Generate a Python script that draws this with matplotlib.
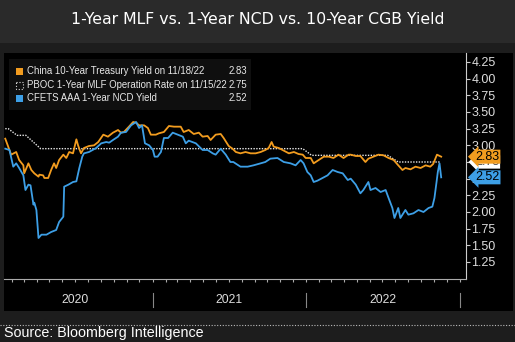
import matplotlib
matplotlib.use("Agg")
import matplotlib.pyplot as plt
import matplotlib.dates as mdates
from matplotlib.patches import Rectangle
from matplotlib.lines import Line2D
import pandas as pd

# --- data ---
cgb_dates = ["2020-01-17", "2020-01-24", "2020-01-31", "2020-02-12", "2020-02-19", "2020-02-29",
             "2020-03-02", "2020-03-12", "2020-03-19", "2020-03-26", "2020-04-05", "2020-04-07",
             "2020-04-16", "2020-04-19", "2020-04-28", "2020-05-05", "2020-05-12", "2020-05-17",
             "2020-05-24", "2020-06-03", "2020-06-10", "2020-06-17", "2020-06-26", "2020-07-04",
             "2020-07-08", "2020-07-15", "2020-07-22", "2020-08-03", "2020-08-15", "2020-08-25",
             "2020-09-06", "2020-09-17", "2020-09-29", "2020-10-11", "2020-10-18", "2020-10-25",
             "2020-11-06", "2020-11-16", "2020-11-23", "2020-11-30", "2020-12-12", "2020-12-21",
             "2020-12-28", "2021-01-09", "2021-01-16", "2021-01-28", "2021-02-09", "2021-02-21",
             "2021-03-09", "2021-03-16", "2021-03-28", "2021-04-09", "2021-04-21", "2021-04-30",
             "2021-05-12", "2021-05-19", "2021-05-31", "2021-06-12", "2021-06-19", "2021-07-01",
             "2021-07-10", "2021-07-18", "2021-07-29", "2021-08-10", "2021-08-22", "2021-09-03",
             "2021-09-15", "2021-09-26", "2021-10-04", "2021-10-11", "2021-10-16", "2021-10-28",
             "2021-11-09", "2021-11-21", "2021-12-03", "2021-12-14", "2021-12-24", "2021-12-31",
             "2022-01-12", "2022-01-19", "2022-01-31", "2022-02-12", "2022-02-24", "2022-03-07",
             "2022-03-19", "2022-03-31", "2022-04-12", "2022-04-17", "2022-04-29", "2022-05-10",
             "2022-05-22", "2022-05-29", "2022-06-10", "2022-06-22", "2022-07-04", "2022-07-16",
             "2022-07-28", "2022-08-08", "2022-08-18", "2022-08-25", "2022-09-06", "2022-09-18",
             "2022-09-30", "2022-10-12", "2022-10-23", "2022-10-30", "2022-11-08", "2022-11-18"]
cgb_yield = [3.10, 2.98, 2.86, 2.90, 2.78, 2.70,
             2.58, 2.73, 2.63, 2.58, 2.53, 2.56,
             2.55, 2.51, 2.51, 2.63, 2.73, 2.66,
             2.78, 2.86, 2.81, 2.90, 2.88, 3.09,
             3.00, 2.88, 2.96, 2.99, 3.00, 3.05,
             3.16, 3.13, 3.19, 3.23, 3.19, 3.20,
             3.28, 3.35, 3.34, 3.30, 3.30, 3.26,
             3.16, 3.16, 3.18, 3.20, 3.29, 3.28,
             3.28, 3.20, 3.23, 3.17, 3.19, 3.13,
             3.14, 3.08, 3.16, 3.17, 3.11, 2.99,
             2.95, 2.90, 2.88, 2.90, 2.88, 2.88,
             2.90, 2.93, 2.96, 3.05, 2.98, 2.96,
             2.92, 2.88, 2.90, 2.87, 2.86, 2.81,
             2.81, 2.73, 2.78, 2.83, 2.83, 2.81,
             2.86, 2.81, 2.86, 2.86, 2.84, 2.84,
             2.75, 2.80, 2.83, 2.86, 2.85, 2.81,
             2.78, 2.70, 2.63, 2.66, 2.64, 2.68,
             2.66, 2.70, 2.68, 2.72, 2.86, 2.83]

ncd_dates = ["2020-01-17", "2020-01-27", "2020-02-05", "2020-02-12", "2020-02-19", "2020-02-29",
             "2020-03-05", "2020-03-12", "2020-03-17", "2020-03-24", "2020-03-26", "2020-03-31",
             "2020-04-05", "2020-04-12", "2020-04-24", "2020-05-05", "2020-05-17", "2020-05-24",
             "2020-06-03", "2020-06-05", "2020-06-15", "2020-06-26", "2020-07-04", "2020-07-11",
             "2020-07-18", "2020-07-22", "2020-08-03", "2020-08-20", "2020-09-01", "2020-09-13",
             "2020-09-20", "2020-09-29", "2020-10-11", "2020-10-18", "2020-10-30", "2020-11-11",
             "2020-11-23", "2020-11-30", "2020-12-07", "2020-12-14", "2020-12-24", "2021-01-02",
             "2021-01-06", "2021-01-13", "2021-01-21", "2021-01-28", "2021-02-07", "2021-02-18",
             "2021-03-02", "2021-03-14", "2021-03-21", "2021-03-28", "2021-04-14", "2021-04-30",
             "2021-05-12", "2021-05-24", "2021-05-31", "2021-06-12", "2021-06-24", "2021-07-05",
             "2021-07-12", "2021-07-29", "2021-08-15", "2021-08-29", "2021-09-15", "2021-09-26",
             "2021-10-08", "2021-10-25", "2021-11-09", "2021-11-25", "2021-12-07", "2021-12-19",
             "2021-12-26", "2022-01-04", "2022-01-12", "2022-01-19", "2022-01-28", "2022-02-09",
             "2022-02-21", "2022-03-05", "2022-03-17", "2022-03-29", "2022-04-10", "2022-04-17",
             "2022-04-29", "2022-05-10", "2022-05-17", "2022-05-29", "2022-06-03", "2022-06-15",
             "2022-06-27", "2022-07-09", "2022-07-16", "2022-07-25", "2022-07-30", "2022-08-08",
             "2022-08-13", "2022-08-25", "2022-09-01", "2022-09-13", "2022-09-25", "2022-10-07",
             "2022-10-19", "2022-10-28", "2022-11-02", "2022-11-07", "2022-11-10", "2022-11-14",
             "2022-11-18"]
ncd_yield = [2.95, 2.93, 2.68, 2.73, 2.66, 2.55,
             2.33, 2.41, 2.40, 2.11, 2.14, 2.03,
             1.61, 1.66, 1.66, 1.70, 1.73, 1.85,
             1.93, 2.38, 2.41, 2.45, 2.46, 2.66,
             2.83, 2.88, 2.90, 2.96, 3.03, 3.05,
             3.04, 3.08, 3.13, 3.19, 3.20, 3.30,
             3.35, 3.26, 3.30, 3.03, 3.00, 2.93,
             2.83, 2.83, 2.90, 3.11, 3.11, 3.19,
             3.16, 3.13, 3.03, 3.07, 3.03, 2.93,
             2.93, 2.88, 2.86, 2.95, 2.86, 2.75,
             2.75, 2.68, 2.68, 2.70, 2.73, 2.75,
             2.80, 2.81, 2.75, 2.73, 2.70, 2.78,
             2.73, 2.60, 2.55, 2.45, 2.47, 2.51,
             2.55, 2.63, 2.60, 2.58, 2.48, 2.50,
             2.41, 2.28, 2.33, 2.45, 2.33, 2.36,
             2.30, 2.33, 2.21, 2.06, 1.91, 2.06,
             1.91, 2.03, 1.96, 1.98, 2.03, 2.00,
             2.06, 2.08, 2.21, 2.45, 2.60, 2.73,
             2.52]

mlf_dates = ["2020-01-17", "2020-01-24", "2020-02-14", "2020-03-06", "2020-04-10",
             "2021-12-24", "2022-01-14", "2022-07-14", "2022-08-08", "2022-11-15"]
mlf_rate = [3.25, 3.25, 3.15, 3.15, 2.95,
            2.95, 2.85, 2.85, 2.75, 2.75]

labels = ["China 10-Year Treasury Yield on 11/18/22",
          "PBOC 1-Year MLF Operation Rate on 11/15/22",
          "CFETS AAA 1-Year NCD Yield"]
years = [2020, 2021, 2022]
yticks = [1.25, 1.50, 1.75, 2.00, 2.25, 2.50, 2.75, 3.00, 3.25, 3.50, 3.75, 4.00, 4.25]

ORANGE = "#f29c1f"
BLUE = "#3d9fe6"
WHITE = "#e6e6e6"
SMALL = "Liberation Sans"

cgb_x = pd.to_datetime(cgb_dates)
ncd_x = pd.to_datetime(ncd_dates)
mlf_x = pd.to_datetime(mlf_dates)

W, H = 515, 342
fig = plt.figure(figsize=(W / 100, H / 100), dpi=100)
fig.patch.set_facecolor("#1d1d1d")

def fx(px):
    return px / W

def fy(py):
    return 1 - py / H

# background panels
fig.patches.append(Rectangle((0, fy(43)), 1, 43 / H, transform=fig.transFigure,
                             facecolor="#2a2a2a", edgecolor="none", zorder=-2))
fig.patches.append(Rectangle((fx(4), fy(311)), fx(509), (311 - 53) / H, transform=fig.transFigure,
                             facecolor="black", edgecolor="none", zorder=-2))
fig.lines.append(Line2D([0, 1], [fy(325), fy(325)], transform=fig.transFigure,
                        color="#bbbbbb", lw=0.8, ls=(0, (1, 1.5))))

fig.text(0.5, fy(20), "1-Year MLF vs. 1-Year NCD vs. 10-Year CGB Yield", color="white",
         fontsize=11.3, ha="center", va="center")
fig.text(fx(4), fy(333), "Source: Bloomberg Intelligence", color="white",
         fontsize=10.3, ha="left", va="center", family=SMALL)

ax = fig.add_axes([fx(4), fy(279), fx(466 - 4), (279 - 53) / H])
ax.set_zorder(1)
ax.patch.set_alpha(0)

ax.plot(mlf_x, mlf_rate, color=WHITE, lw=1.0, ls=(0, (1, 1)), zorder=2)
ax.plot(cgb_x, cgb_yield, color=ORANGE, lw=1.3, zorder=3)
ax.plot(ncd_x, ncd_yield, color=BLUE, lw=1.3, zorder=4)

ax.set_ylim(0.995, 4.385)
ax.set_xlim(pd.Timestamp("2020-01-14"), pd.Timestamp("2023-01-16"))

ax.yaxis.tick_right()
ax.set_yticks(yticks)
ax.set_yticklabels(["%.2f" % v for v in yticks], family=SMALL)
ax.tick_params(axis="y", colors="#cccccc", labelcolor="#dddddd", labelsize=9,
               length=3, width=0.8, pad=1)
ax.xaxis.set_major_locator(mdates.MonthLocator())
ax.xaxis.set_major_formatter(plt.NullFormatter())
ax.tick_params(axis="x", colors="#aaaaaa", length=2.5, width=0.8)
for s in ["top", "left"]:
    ax.spines[s].set_visible(False)
ax.spines["right"].set_color("#cccccc")
ax.spines["bottom"].set_color("#aaaaaa")
ax.spines["right"].set_linewidth(0.8)
ax.spines["bottom"].set_linewidth(0.8)

# year labels and separators below the axis
xt = ax.get_xaxis_transform()
for yr in years:
    mid = pd.Timestamp(f"{yr}-07-02")
    ax.text(mid, -0.095, str(yr), transform=xt, color="#dddddd", fontsize=8.7,
            ha="center", va="center", family=SMALL)
    ax.plot([pd.Timestamp(f"{yr + 1}-01-01")] * 2, [-0.06, -0.125], transform=xt,
            color="#888888", lw=0.8, clip_on=False)

# end-of-line value tags (the MLF tag sits mostly hidden behind the orange one)
yt = ax.get_yaxis_transform()
tag = dict(transform=yt, fontsize=9, ha="left", va="center", family=SMALL)
ax.text(1.02, mlf_rate[-1], "%.2f" % mlf_rate[-1], color="#444444", zorder=5,
        bbox=dict(boxstyle="larrow,pad=0.05", fc="white", ec="none"), **tag)
ax.text(1.02, cgb_yield[-1], "%.2f" % cgb_yield[-1], color="black", zorder=6,
        bbox=dict(boxstyle="larrow,pad=0.08", fc=ORANGE, ec="none"), **tag)
ax.text(1.02, ncd_yield[-1], "%.2f" % ncd_yield[-1], color="black", zorder=6,
        bbox=dict(boxstyle="larrow,pad=0.08", fc=BLUE, ec="none"), **tag)

# legend box
leg_ax = fig.add_axes([0, 0, 1, 1], zorder=5)
leg_ax.set_axis_off()
leg_ax.set_xlim(0, W)
leg_ax.set_ylim(H, 0)
leg_ax.add_patch(Rectangle((9, 59), 242, 51, facecolor="#0f0f0f", edgecolor="none"))
rows = [71, 85, 98]
last_vals = [cgb_yield[-1], mlf_rate[-1], ncd_yield[-1]]
styles = [dict(facecolor=ORANGE, edgecolor="none"),
          dict(facecolor="none", edgecolor="#dddddd", ls=":", lw=0.8),
          dict(facecolor=BLUE, edgecolor="none")]
for r, lab, v, st in zip(rows, labels, last_vals, styles):
    leg_ax.add_patch(Rectangle((16, r - 3.5), 7, 7, **st))
    leg_ax.text(27, r, lab, color="#e8e8e8", fontsize=6.9, ha="left", va="center", family=SMALL)
    leg_ax.text(247, r, "%.2f" % v, color="#e8e8e8", fontsize=6.9, ha="right",
                va="center", family=SMALL)

plt.savefig("out.png", dpi=100, facecolor=fig.get_facecolor())
